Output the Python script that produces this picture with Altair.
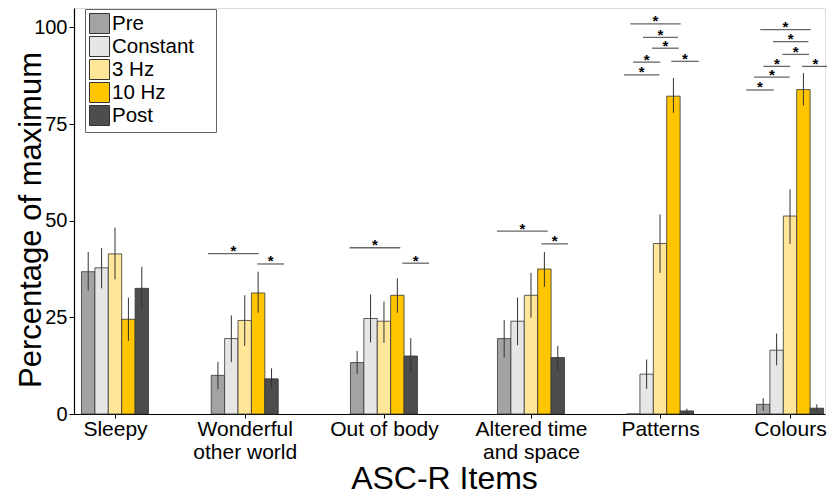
import json
import altair as alt
import pandas as pd

# ---- data ----
items = ["Sleepy", "Wonderful|other world", "Out of body", "Altered time|and space", "Patterns", "Colours"]
item_pos = [3.06, 12.74, 23.13, 34.10, 43.73, 53.43]   # group centres (x units = bar widths)
conds = ["Pre", "Constant", "3 Hz", "10 Hz", "Post"]
colors = ["#a3a3a3", "#e6e6e6", "#ffe699", "#ffc600", "#4d4d4d"]

means = [
    [36.8, 37.8, 41.4, 24.5, 32.5],
    [10.0, 19.5, 24.2, 31.3, 9.1],
    [13.3, 24.7, 24.0, 30.7, 15.0],
    [19.5, 24.0, 30.7, 37.5, 14.6],
    [0.0, 10.3, 44.1, 82.2, 0.8],
    [2.5, 16.5, 51.2, 83.9, 1.5],
]
err_lo = [
    [31.9, 32.5, 34.8, 18.9, 27.0],
    [6.4, 13.4, 17.6, 26.2, 6.4],
    [10.3, 18.5, 18.4, 26.2, 10.7],
    [14.6, 17.8, 24.9, 32.9, 11.3],
    [0.0, 6.5, 36.5, 77.9, 0.2],
    [0.8, 12.6, 44.0, 79.8, 0.5],
]
err_hi = [
    [41.9, 42.9, 48.2, 30.1, 38.1],
    [13.5, 25.5, 30.7, 36.8, 11.8],
    [16.3, 30.9, 29.1, 35.1, 19.6],
    [24.3, 30.1, 36.5, 41.9, 17.6],
    [0.0, 14.1, 51.6, 86.9, 1.4],
    [4.1, 20.8, 58.1, 88.2, 2.5],
]

# significance brackets: item index, start / end offset from group centre, height
br_item = [1, 1, 2, 2, 3, 3, 4, 4, 4, 4, 4, 4, 5, 5, 5, 5, 5, 5, 5]
br_from = [-2.74, 0.94, -2.56, 1.37, -2.54, 0.77,
           -2.22, -1.27, -0.60, -2.01, 0.84, -2.69,
           -2.22, -1.27, -0.57, -1.99, 0.90, -2.69, -3.26]
br_to = [1.04, 2.93, 1.22, 3.36, 1.25, 2.76,
         1.54, 1.34, 1.39, 0.02, 2.89, -0.05,
         1.54, 1.37, 1.42, 0.02, 2.89, -0.02, -1.22]
br_y = [41.5, 38.8, 43.0, 39.0, 47.3, 44.0,
        100.9, 97.4, 94.6, 91.0, 91.2, 87.7,
        99.4, 96.3, 93.0, 89.9, 89.9, 87.1, 83.8]

# ---- tables ----
bar_rows = []
for gi, pos in enumerate(item_pos):
    for ci, c in enumerate(conds):
        bar_rows.append({
            "item": items[gi], "cond": c, "order": ci,
            "x": pos + ci - 2.5, "x2": pos + ci - 1.5, "xc": pos + ci - 2.0,
            "val": means[gi][ci], "lo": err_lo[gi][ci], "hi": err_hi[gi][ci], "zero": 0.0,
        })
bars_df = pd.DataFrame(bar_rows)

br_rows = []
for it, f, t, y in zip(br_item, br_from, br_to, br_y):
    p = item_pos[it]
    br_rows.append({"x": p + f, "x2": p + t, "xm": p + (f + t) / 2, "y": y, "star": "*"})
br_df = pd.DataFrame(br_rows)

FONT = "Liberation Sans"
x_scale = alt.Scale(domain=[0, 56.04], nice=False, zero=False)
y_scale = alt.Scale(domain=[0, 105], nice=False)

label_expr = "split({}[indexof({}, datum.value)], '|')".format(
    json.dumps(items).replace('"', "'"), json.dumps(item_pos))

x_axis = alt.Axis(
    values=item_pos, labelExpr=label_expr, title="ASC-R Items",
    titleFontSize=32, titleFontWeight="normal", titleFont=FONT, titleColor="black",
    titleX=370, titleY=74, titleBaseline="alphabetic", titleAlign="center",
    labelFontSize=21, labelFont=FONT, labelColor="black", labelLineHeight=23,
    labelBaseline="alphabetic", labelPadding=17, labelAngle=0,
    labelOverlap=False, labelFlush=False,
    tickSize=4, tickColor="black", domainColor="black", domainWidth=1.2, grid=False,
)
y_axis = alt.Axis(
    values=[0, 25, 50, 75, 100], title="Percentage of maximum",
    titleFontSize=31, titleFontWeight="normal", titleFont=FONT, titleColor="black",
    titleX=-34, titleY=211.5, titleBaseline="alphabetic", titleAlign="center",
    labelFontSize=20, labelFont=FONT, labelColor="black", labelPadding=2,
    tickSize=5, tickColor="black", domainColor="black", domainWidth=1.2, grid=False,
)

bars = alt.Chart(bars_df).mark_bar(stroke="#333333", strokeWidth=0.8, opacity=1).encode(
    x=alt.X("x:Q", scale=x_scale, axis=x_axis),
    x2="x2:Q",
    y=alt.Y("val:Q", scale=y_scale, axis=y_axis),
    y2="zero:Q",
    fill=alt.Fill("cond:N", scale=alt.Scale(domain=conds, range=colors), sort=conds,
                  legend=alt.Legend(
                      title="M", titleOrient="right", titleColor="white",
                      titleFontSize=14, titlePadding=6, titleFont=FONT,
                      orient="none", legendX=11, legendY=1,
                      symbolType="square", symbolSize=400, symbolStrokeColor="#333333",
                      symbolStrokeWidth=1, symbolOpacity=1,
                      labelFontSize=20.5, labelFont=FONT, labelColor="black",
                      labelOffset=2, rowPadding=-5.5, padding=4,
                      strokeColor="#666666", fillColor="white",
                  )),
)

errs = alt.Chart(bars_df).mark_rule(color="#333333", strokeWidth=1).encode(
    x="xc:Q", y="lo:Q", y2="hi:Q",
)

lines = alt.Chart(br_df).mark_rule(color="#666666", strokeWidth=1.3).encode(
    x="x:Q", x2="x2:Q", y="y:Q",
)

stars = alt.Chart(br_df).mark_text(
    font=FONT, fontSize=15, fontWeight="bold", color="black",
    baseline="alphabetic", align="center", dy=2.5,
).encode(x="xm:Q", y="y:Q", text="star:N")

chart = alt.layer(bars, errs, lines, stars).properties(
    width=751, height=406,
    autosize=alt.AutoSizeParams(type="none"),
    padding={"left": 66, "top": 0, "right": 2, "bottom": 76},
).configure_view(stroke=None).configure(font=FONT)

chart.save("out.html", embed_options={"renderer": "svg", "actions": False})
